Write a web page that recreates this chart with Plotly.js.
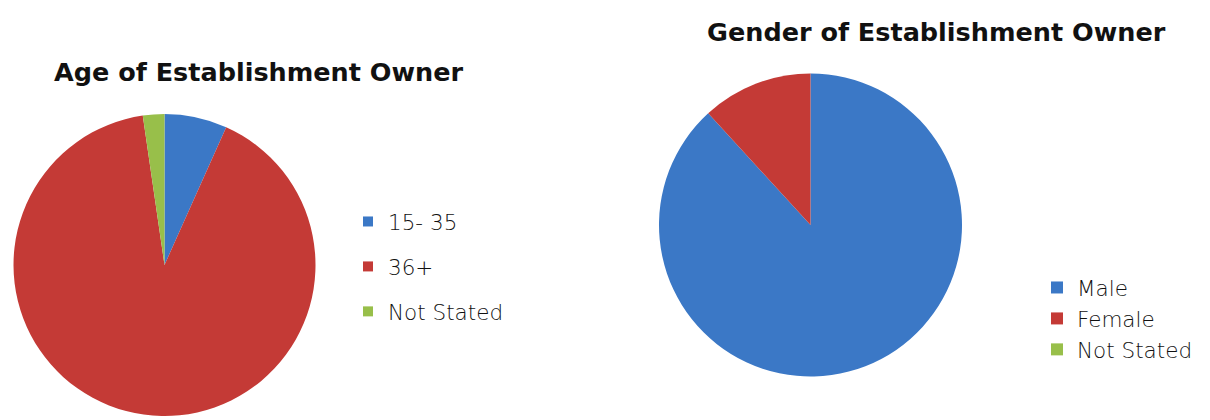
<!DOCTYPE html>
<html>
<head>
<meta charset="utf-8">
<script src="https://cdn.plot.ly/plotly-3.0.1.min.js"></script>
<style>html,body{margin:0;padding:0;background:#fff;}#chart{width:1210px;height:420px;}</style>
</head>
<body>
<div id="chart"></div>
<script>
var ageLabels = ["15- 35", "36+", "Not Stated"];
var ageValues = [6.7, 91.0, 2.3];
var genderLabels = ["Male", "Female", "Not Stated"];
var genderValues = [88.2, 11.8, 0.001];
var sliceColors = ["#3b78c6", "#c43a36", "#98bf4a"];
var titles = ["Age of Establishment Owner", "Gender of Establishment Owner"];

var legendFont = {family: "'DejaVu Sans', sans-serif", size: 21.5, color: "#111", weight: 200};
var titleFont = {family: "'DejaVu Sans', sans-serif", size: 25.5, color: "#111", weight: "bold"};

var data = [
  {
    type: "pie", labels: ageLabels, values: ageValues, sort: false,
    direction: "clockwise", rotation: 0, textinfo: "none", hoverinfo: "label+percent",
    marker: {colors: sliceColors, line: {width: 0}},
    domain: {x: [13/1210, 316/1210], y: [4/420, 306/420]},
    showlegend: false
  },
  {
    type: "pie", labels: genderLabels, values: genderValues, sort: false,
    direction: "clockwise", rotation: 0, textinfo: "none", hoverinfo: "label+percent",
    marker: {colors: sliceColors, line: {width: 0}},
    domain: {x: [659/1210, 962/1210], y: [43/420, 347/420]},
    legend: "legend2"
  }
];

// legend entries for the age pie (one per category, so their spacing can be set)
ageLabels.forEach(function (lab, i) {
  data.push({
    type: "scatter", mode: "markers", x: [null], y: [null], name: lab,
    legendgroup: lab, legend: "legend", showlegend: true, hoverinfo: "skip",
    marker: {symbol: "square", size: 10, color: sliceColors[i]}
  });
});

var layout = {
  width: 1210, height: 420,
  margin: {l: 0, r: 0, t: 0, b: 0},
  paper_bgcolor: "#fff", plot_bgcolor: "#fff",
  showlegend: true,
  xaxis: {visible: false}, yaxis: {visible: false},
  legend: {x: 348/1210, y: (420-201)/420, xanchor: "left", yanchor: "top", font: legendFont,
           bgcolor: "rgba(0,0,0,0)", traceorder: "grouped", tracegroupgap: 14},
  legend2: {x: 1037/1210, y: (420-267)/420, xanchor: "left", yanchor: "top", font: legendFont, bgcolor: "rgba(0,0,0,0)"},
  annotations: [
    {text: titles[0], x: 258/1210, y: (420-72)/420, xref: "paper", yref: "paper", xanchor: "center", yanchor: "middle", showarrow: false, font: titleFont},
    {text: titles[1], x: 936/1210, y: (420-32)/420, xref: "paper", yref: "paper", xanchor: "center", yanchor: "middle", showarrow: false, font: titleFont}
  ]
};

Plotly.newPlot("chart", data, layout, {displayModeBar: false, staticPlot: true});
</script>
</body>
</html>
